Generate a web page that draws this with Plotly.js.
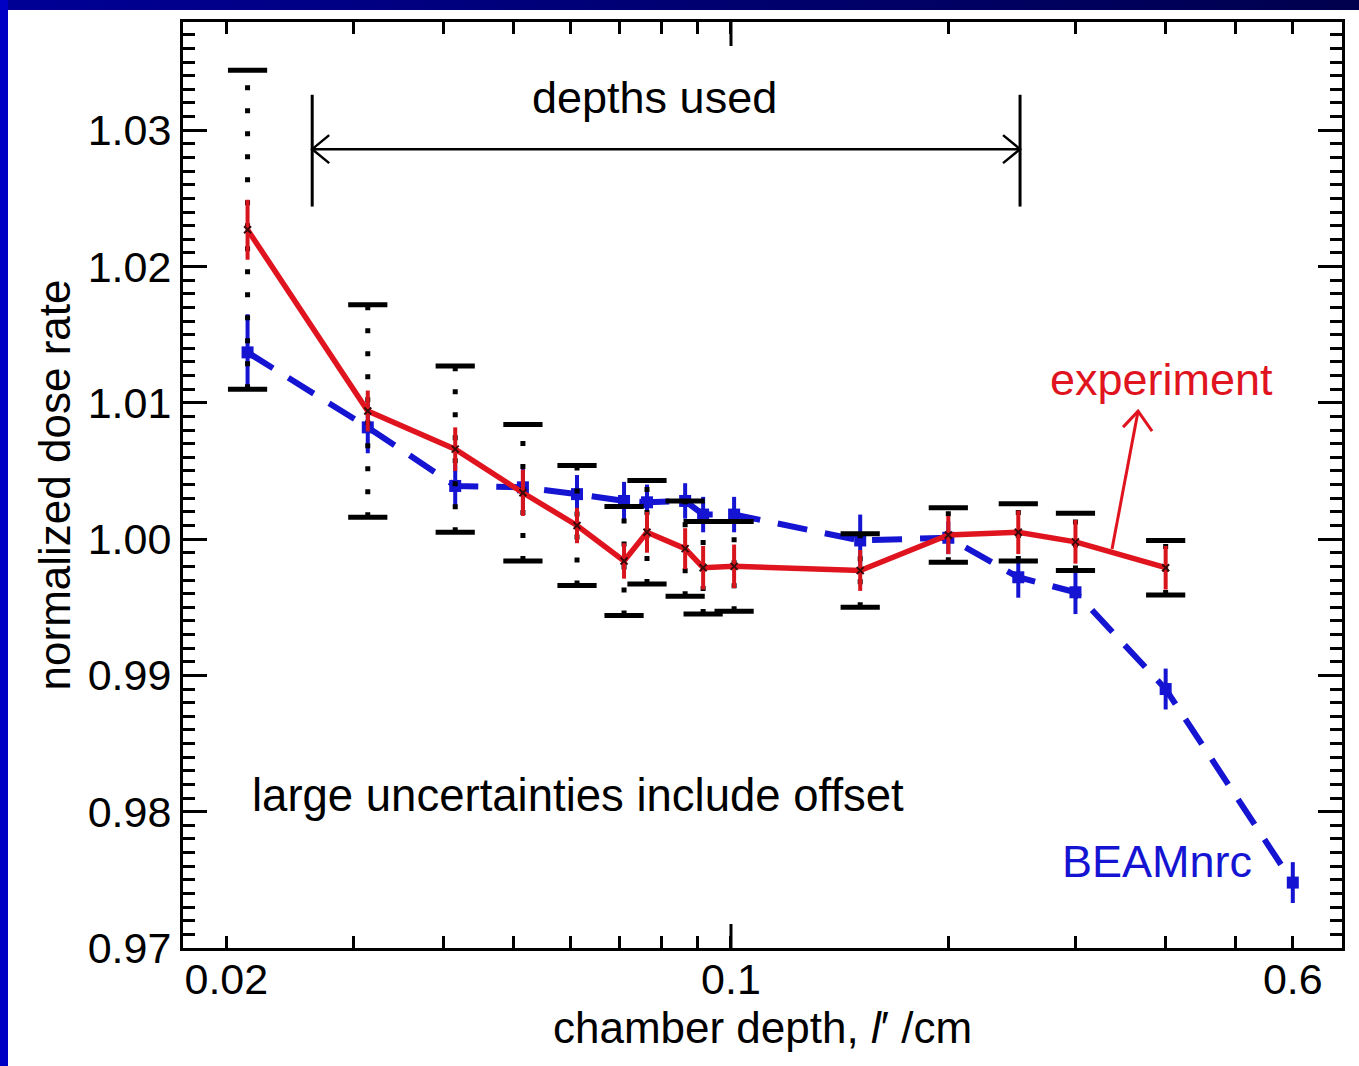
<!DOCTYPE html>
<html>
<head>
<meta charset="utf-8">
<script src="https://cdn.plot.ly/plotly-3.0.1.min.js"></script>
<style>
html,body{margin:0;padding:0;width:1359px;height:1066px;overflow:hidden;background:#ffffff;}
#band{position:absolute;left:0;top:0;width:1359px;height:10px;background:linear-gradient(to right,#000096,#00004e);z-index:2;}
#lband{position:absolute;left:0;top:0;width:8px;height:1066px;background:#0000c4;z-index:2;}
#plot{position:absolute;left:8px;top:10px;width:1351px;height:1056px;background:#fff;}
</style>
</head>
<body>
<div id="band"></div>
<div id="lband"></div>
<div id="plot"></div>
<script>
// ---- data ----
// experiment (red)
const expDepth   = [0.0214, 0.0314, 0.0415, 0.0515, 0.0612, 0.0711, 0.0765, 0.0864, 0.0915, 0.101, 0.151, 0.20, 0.25, 0.30, 0.40];
const expDose    = [1.0227, 1.0094, 1.0066, 1.0034, 1.0010, 0.9984, 1.0005, 0.9993, 0.9979, 0.9980, 0.9977, 1.0003, 1.0005, 0.9998, 0.9979];
const expStatErr = [0.0022, 0.0015, 0.0016, 0.0017, 0.0013, 0.0013, 0.0015, 0.0015, 0.0016, 0.0016, 0.0015, 0.0014, 0.0016, 0.0016, 0.0016];
const expTotErr  = [0.0117, 0.0078, 0.0061, 0.0050, 0.0044, 0.0040, 0.0038, 0.0035, 0.0034, 0.0033, 0.0027, 0.0020, 0.0021, 0.0021, 0.0020];
// BEAMnrc (blue)
const simDepth = [0.0214, 0.0314, 0.0415, 0.0515, 0.0612, 0.0711, 0.0765, 0.0864, 0.0915, 0.101, 0.151, 0.20, 0.25, 0.30, 0.40, 0.60];
const simDose  = [1.0137, 1.0082, 1.0039, 1.0038, 1.0033, 1.0028, 1.0027, 1.0028, 1.0018, 1.0018, 0.9999, 1.0001, 0.9972, 0.9961, 0.9890, 0.9748];
const simErr   = [0.0028, 0.0019, 0.0016, 0.0016, 0.0014, 0.0014, 0.0013, 0.0013, 0.0013, 0.0013, 0.0019, 0.0012, 0.0015, 0.0016, 0.0015, 0.0015];
// axis ticks
const xTickVals  = [0.02, 0.1, 0.6];
const xTickText  = ['0.02', '0.1', '0.6'];
const xMinorVals = [0.03, 0.04, 0.05, 0.06, 0.07, 0.08, 0.09, 0.2, 0.3, 0.4, 0.5];
const yTickVals  = [0.97, 0.98, 0.99, 1.00, 1.01, 1.02, 1.03];
// annotation anchors (data units)
const depthsUsed = [0.0263, 0.2514];
const depthsArrowY = 1.02861;
const depthsBarY = [1.0244, 1.0326];
const expArrowFrom = [0.3371, 0.99927];
const expArrowTo   = [0.3663, 1.00939];

const RED = '#e0141e', BLUE = '#1414d2';
const FONT = 'Liberation Sans, Arial, Helvetica, sans-serif';

// dotted total-uncertainty bars
const dotX = [], dotY = [], capX = [], capY = [];
expDepth.forEach((x, i) => {
  const lo = expDose[i] - expTotErr[i], hi = expDose[i] + expTotErr[i];
  dotX.push(x, x, null); dotY.push(lo, hi, null);
  capX.push(x, x); capY.push(lo, hi);
});

const traces = [
  { x: simDepth, y: simDose, type: 'scatter', mode: 'lines+markers',
    line: { color: BLUE, width: 6, dash: '30px,18px' },
    marker: { symbol: 'square', size: 12, color: BLUE },
    error_y: { type: 'data', array: simErr, visible: true, color: BLUE, thickness: 4, width: 0 } },
  { x: dotX, y: dotY, type: 'scatter', mode: 'lines',
    line: { color: 'black', width: 5, dash: '5px,18px' }, connectgaps: false },
  { x: expDepth, y: expDose, type: 'scatter', mode: 'lines+markers',
    line: { color: RED, width: 5.5 },
    marker: { symbol: 'x-thin', size: 7, line: { color: '#3a0a0a', width: 2 } },
    error_y: { type: 'data', array: expStatErr, visible: true, color: '#d8141c', thickness: 4, width: 0 } },
  { x: capX, y: capY, type: 'scatter', mode: 'markers',
    marker: { symbol: 'line-ew', size: 28, line: { color: 'black', width: 5 } } }
];

const plotH = 926;
const blackLine = { color: 'black', width: 3 };
const shapes = [
  // long major tick at 0.1 (bottom and top)
  { type: 'line', xref: 'x', yref: 'paper', x0: 0.1, x1: 0.1, y0: 0, y1: 24 / plotH, line: blackLine },
  { type: 'line', xref: 'x', yref: 'paper', x0: 0.1, x1: 0.1, y0: 1 - 24 / plotH, y1: 1, line: blackLine },
  // depths used
  { type: 'line', xref: 'x', yref: 'y', x0: depthsUsed[0], x1: depthsUsed[1], y0: depthsArrowY, y1: depthsArrowY, line: { color: 'black', width: 2.5 } },
  { type: 'line', xref: 'x', yref: 'y', x0: depthsUsed[0], x1: depthsUsed[0], y0: depthsBarY[0], y1: depthsBarY[1], line: blackLine },
  { type: 'line', xref: 'x', yref: 'y', x0: depthsUsed[1], x1: depthsUsed[1], y0: depthsBarY[0], y1: depthsBarY[1], line: blackLine },
  { type: 'path', xref: 'x', yref: 'y', xsizemode: 'pixel', ysizemode: 'pixel', xanchor: depthsUsed[0], yanchor: depthsArrowY,
    path: 'M17,14 L0,0 L17,-14', line: { color: 'black', width: 2.5 } },
  { type: 'path', xref: 'x', yref: 'y', xsizemode: 'pixel', ysizemode: 'pixel', xanchor: depthsUsed[1], yanchor: depthsArrowY,
    path: 'M-17,14 L0,0 L-17,-14', line: { color: 'black', width: 2.5 } },
  // experiment pointer
  { type: 'line', xref: 'x', yref: 'y', x0: expArrowFrom[0], x1: expArrowTo[0], y0: expArrowFrom[1], y1: expArrowTo[1], line: { color: RED, width: 3 } },
  { type: 'path', xref: 'x', yref: 'y', xsizemode: 'pixel', ysizemode: 'pixel', xanchor: expArrowTo[0], yanchor: expArrowTo[1],
    path: 'M-15,-16 L0,0 L14,-20', line: { color: RED, width: 3 } }
];

const annotations = [
  { text: 'depths used', xref: 'paper', yref: 'paper', x: 0.4072, y: 0.919, showarrow: false, xanchor: 'center', yanchor: 'middle', font: { size: 45, color: 'black', family: FONT } },
  { text: 'experiment', xref: 'paper', yref: 'paper', x: 0.8443, y: 0.614, showarrow: false, xanchor: 'center', yanchor: 'middle', font: { size: 45, color: RED, family: FONT } },
  { text: 'BEAMnrc', xref: 'paper', yref: 'paper', x: 0.8404, y: 0.093, showarrow: false, xanchor: 'center', yanchor: 'middle', font: { size: 45, color: BLUE, family: FONT } },
  { text: 'large uncertainties include offset', xref: 'paper', yref: 'paper', x: 0.3404, y: 0.165, showarrow: false, xanchor: 'center', yanchor: 'middle', font: { size: 45.5, color: 'black', family: FONT } }
];

const layout = {
  width: 1351, height: 1056,
  margin: { l: 175, r: 17, t: 12, b: 118 },
  paper_bgcolor: '#ffffff', plot_bgcolor: '#ffffff',
  showlegend: false,
  font: { family: FONT, color: 'black' },
  xaxis: {
    type: 'log', range: [-1.759, -0.1537],
    tickmode: 'array', tickvals: xTickVals, ticktext: xTickText,
    ticks: 'inside', ticklen: 12, tickwidth: 3, tickcolor: 'black',
    minor: { tickmode: 'array', tickvals: xMinorVals, ticks: 'inside', ticklen: 12, tickwidth: 3, tickcolor: 'black', showgrid: false },
    showline: true, linewidth: 3, linecolor: 'black', mirror: 'allticks',
    showgrid: false, zeroline: false,
    tickfont: { size: 43, color: 'black', family: FONT },
    ticklabelstandoff: -9,
    title: { text: 'chamber depth, <i>l</i>′ /cm', font: { size: 44, color: 'black', family: FONT }, standoff: 4 }
  },
  yaxis: {
    range: [0.97, 1.03794],
    tickmode: 'array', tickvals: yTickVals, tickformat: '.2f',
    ticks: 'inside', ticklen: 24, tickwidth: 3, tickcolor: 'black',
    minor: { dtick: 0.001, tick0: 0.97, ticks: 'inside', ticklen: 12, tickwidth: 3, tickcolor: 'black', showgrid: false },
    showline: true, linewidth: 3, linecolor: 'black', mirror: 'allticks',
    showgrid: false, zeroline: false,
    tickfont: { size: 43, color: 'black', family: FONT },
    ticklabelstandoff: 0,
    title: { text: 'normalized dose rate', font: { size: 44, color: 'black', family: FONT }, standoff: 4 }
  },
  shapes: shapes,
  annotations: annotations
};

Plotly.newPlot('plot', traces, layout, { displayModeBar: false, staticPlot: true });
</script>
</body>
</html>
